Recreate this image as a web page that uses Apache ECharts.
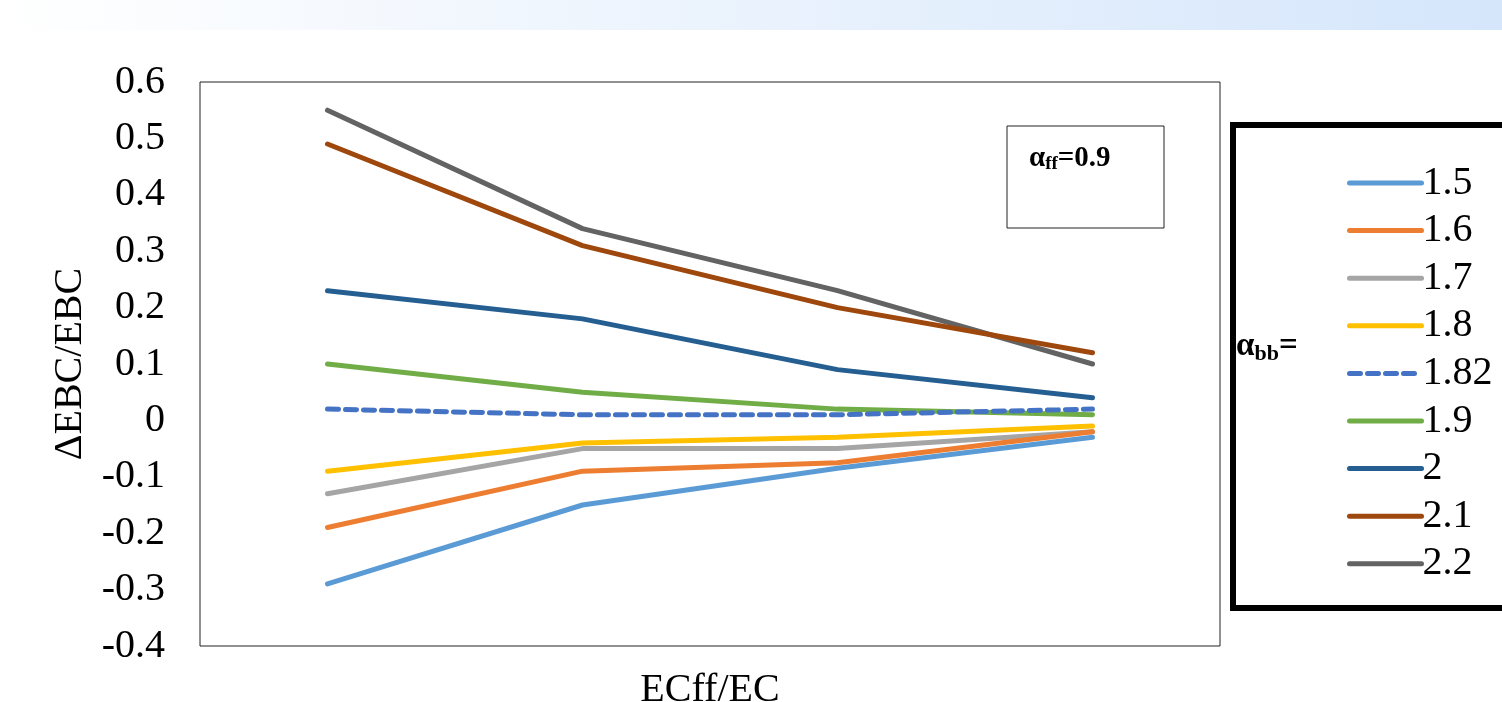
<!DOCTYPE html>
<html>
<head>
<meta charset="utf-8">
<script src="https://cdn.jsdelivr.net/npm/echarts@6/dist/echarts.min.js"></script>
<style>
  html, body { margin: 0; padding: 0; background: #fff; }
  #band { position: absolute; left: 0; top: 0; width: 1502px; height: 30px;
          background: linear-gradient(to right, #ffffff, #d5e6fb); }
  #chart { position: absolute; left: 0; top: 0; width: 1502px; height: 702px; }
</style>
</head>
<body>
<div id="band"></div>
<div id="chart"></div>
<script>
// x categories (no labels shown in the figure)
const categories = ['1', '2', '3', '4'];
const seriesNames = ['1.5', '1.6', '1.7', '1.8', '1.82', '1.9', '2', '2.1', '2.2'];
const colors = ['#5b9bd5', '#ed7d31', '#a5a5a5', '#ffc000', '#4472c4', '#70ad47', '#255e91', '#9e480e', '#636363'];

const s15 = [-0.29, -0.15, -0.085, -0.03];
const s16 = [-0.19, -0.09, -0.075, -0.02];
const s17 = [-0.13, -0.05, -0.05, -0.02];
const s18 = [-0.09, -0.04, -0.03, -0.01];
const s182 = [0.02, 0.01, 0.01, 0.02];
const s19 = [0.10, 0.05, 0.02, 0.01];
const s20 = [0.23, 0.18, 0.09, 0.04];
const s21 = [0.49, 0.31, 0.20, 0.12];
const s22 = [0.55, 0.34, 0.23, 0.10];
const allData = [s15, s16, s17, s18, s182, s19, s20, s21, s22];

const yMin = -0.4, yMax = 0.6, yStep = 0.1;

const font = '"Liberation Serif", "Times New Roman", serif';

const chart = echarts.init(document.getElementById('chart'));

const series = seriesNames.map((name, i) => ({
  name: name,
  type: 'line',
  data: allData[i],
  symbol: 'none',
  color: colors[i],
  lineStyle: {
    width: 5,
    color: colors[i],
    type: name === '1.82' ? [11, 7] : 'solid',
    cap: 'round'
  },
  z: 10 - i
}));

const option = {
  backgroundColor: 'transparent',
  animation: false,
  grid: {
    left: 200, top: 82, width: 1020, height: 564,
    outerBoundsMode: 'none',
    containLabel: false,
    show: true, borderColor: '#222', borderWidth: 1, backgroundColor: 'transparent'
  },
  xAxis: {
    type: 'category',
    data: categories,
    boundaryGap: true,
    name: 'ECff/EC',
    nameLocation: 'middle',
    nameGap: 24,
    nameTextStyle: { fontFamily: font, fontSize: 40, color: '#000' },
    axisLine: { show: false },
    axisTick: { show: false },
    axisLabel: { show: false }
  },
  yAxis: {
    type: 'value',
    min: yMin, max: yMax, interval: yStep,
    name: 'ΔEBC/EBC',
    nameLocation: 'middle',
    nameGap: 100,
    nameRotate: 90,
    nameTextStyle: { fontFamily: font, fontSize: 40, color: '#000' },
    axisLine: { show: false },
    axisTick: { show: false },
    splitLine: { show: false },
    axisLabel: {
      fontFamily: font, fontSize: 40, color: '#000', margin: 35,
      formatter: v => String(Math.round(v * 10) / 10)
    }
  },
  legend: {
    orient: 'vertical',
    left: 1347, top: 163,
    padding: 0,
    itemWidth: 72, itemHeight: 6,
    itemGap: 7.6,
    itemStyle: { opacity: 0 },
    lineStyle: { width: 5, cap: 'round' },
    textStyle: { fontFamily: font, fontSize: 40, color: '#000', padding: [0, 0, 0, -4] },
    data: seriesNames
  },
  graphic: [
    {
      type: 'rect',
      shape: { x: 1007, y: 126, width: 157, height: 102 },
      style: { fill: '#fff', stroke: '#222', lineWidth: 1 },
      z: 20
    },
    {
      type: 'text',
      left: 1029, top: 144,
      style: {
        text: '{a|α}{s|ff}{a|=0.9}',
        rich: {
          a: { fontFamily: font, fontSize: 29, fontWeight: 'bold', fill: '#000' },
          s: { fontFamily: font, fontSize: 19, fontWeight: 'bold', fill: '#000', padding: [12, 0, 0, 0] }
        }
      },
      z: 21
    },
    {
      type: 'rect',
      shape: { x: 1233, y: 125, width: 280, height: 483 },
      style: { fill: 'transparent', stroke: '#000', lineWidth: 6 },
      z: 20
    },
    {
      type: 'text',
      left: 1236, top: 330,
      style: {
        text: '{a|α}{s|bb}{a|=}',
        rich: {
          a: { fontFamily: font, fontSize: 33, fontWeight: 'bold', fill: '#000' },
          s: { fontFamily: font, fontSize: 22, fontWeight: 'bold', fill: '#000', padding: [15, 0, 0, 0] }
        }
      },
      z: 21
    }
  ],
  series: series
};

chart.setOption(option);
</script>
</body>
</html>
